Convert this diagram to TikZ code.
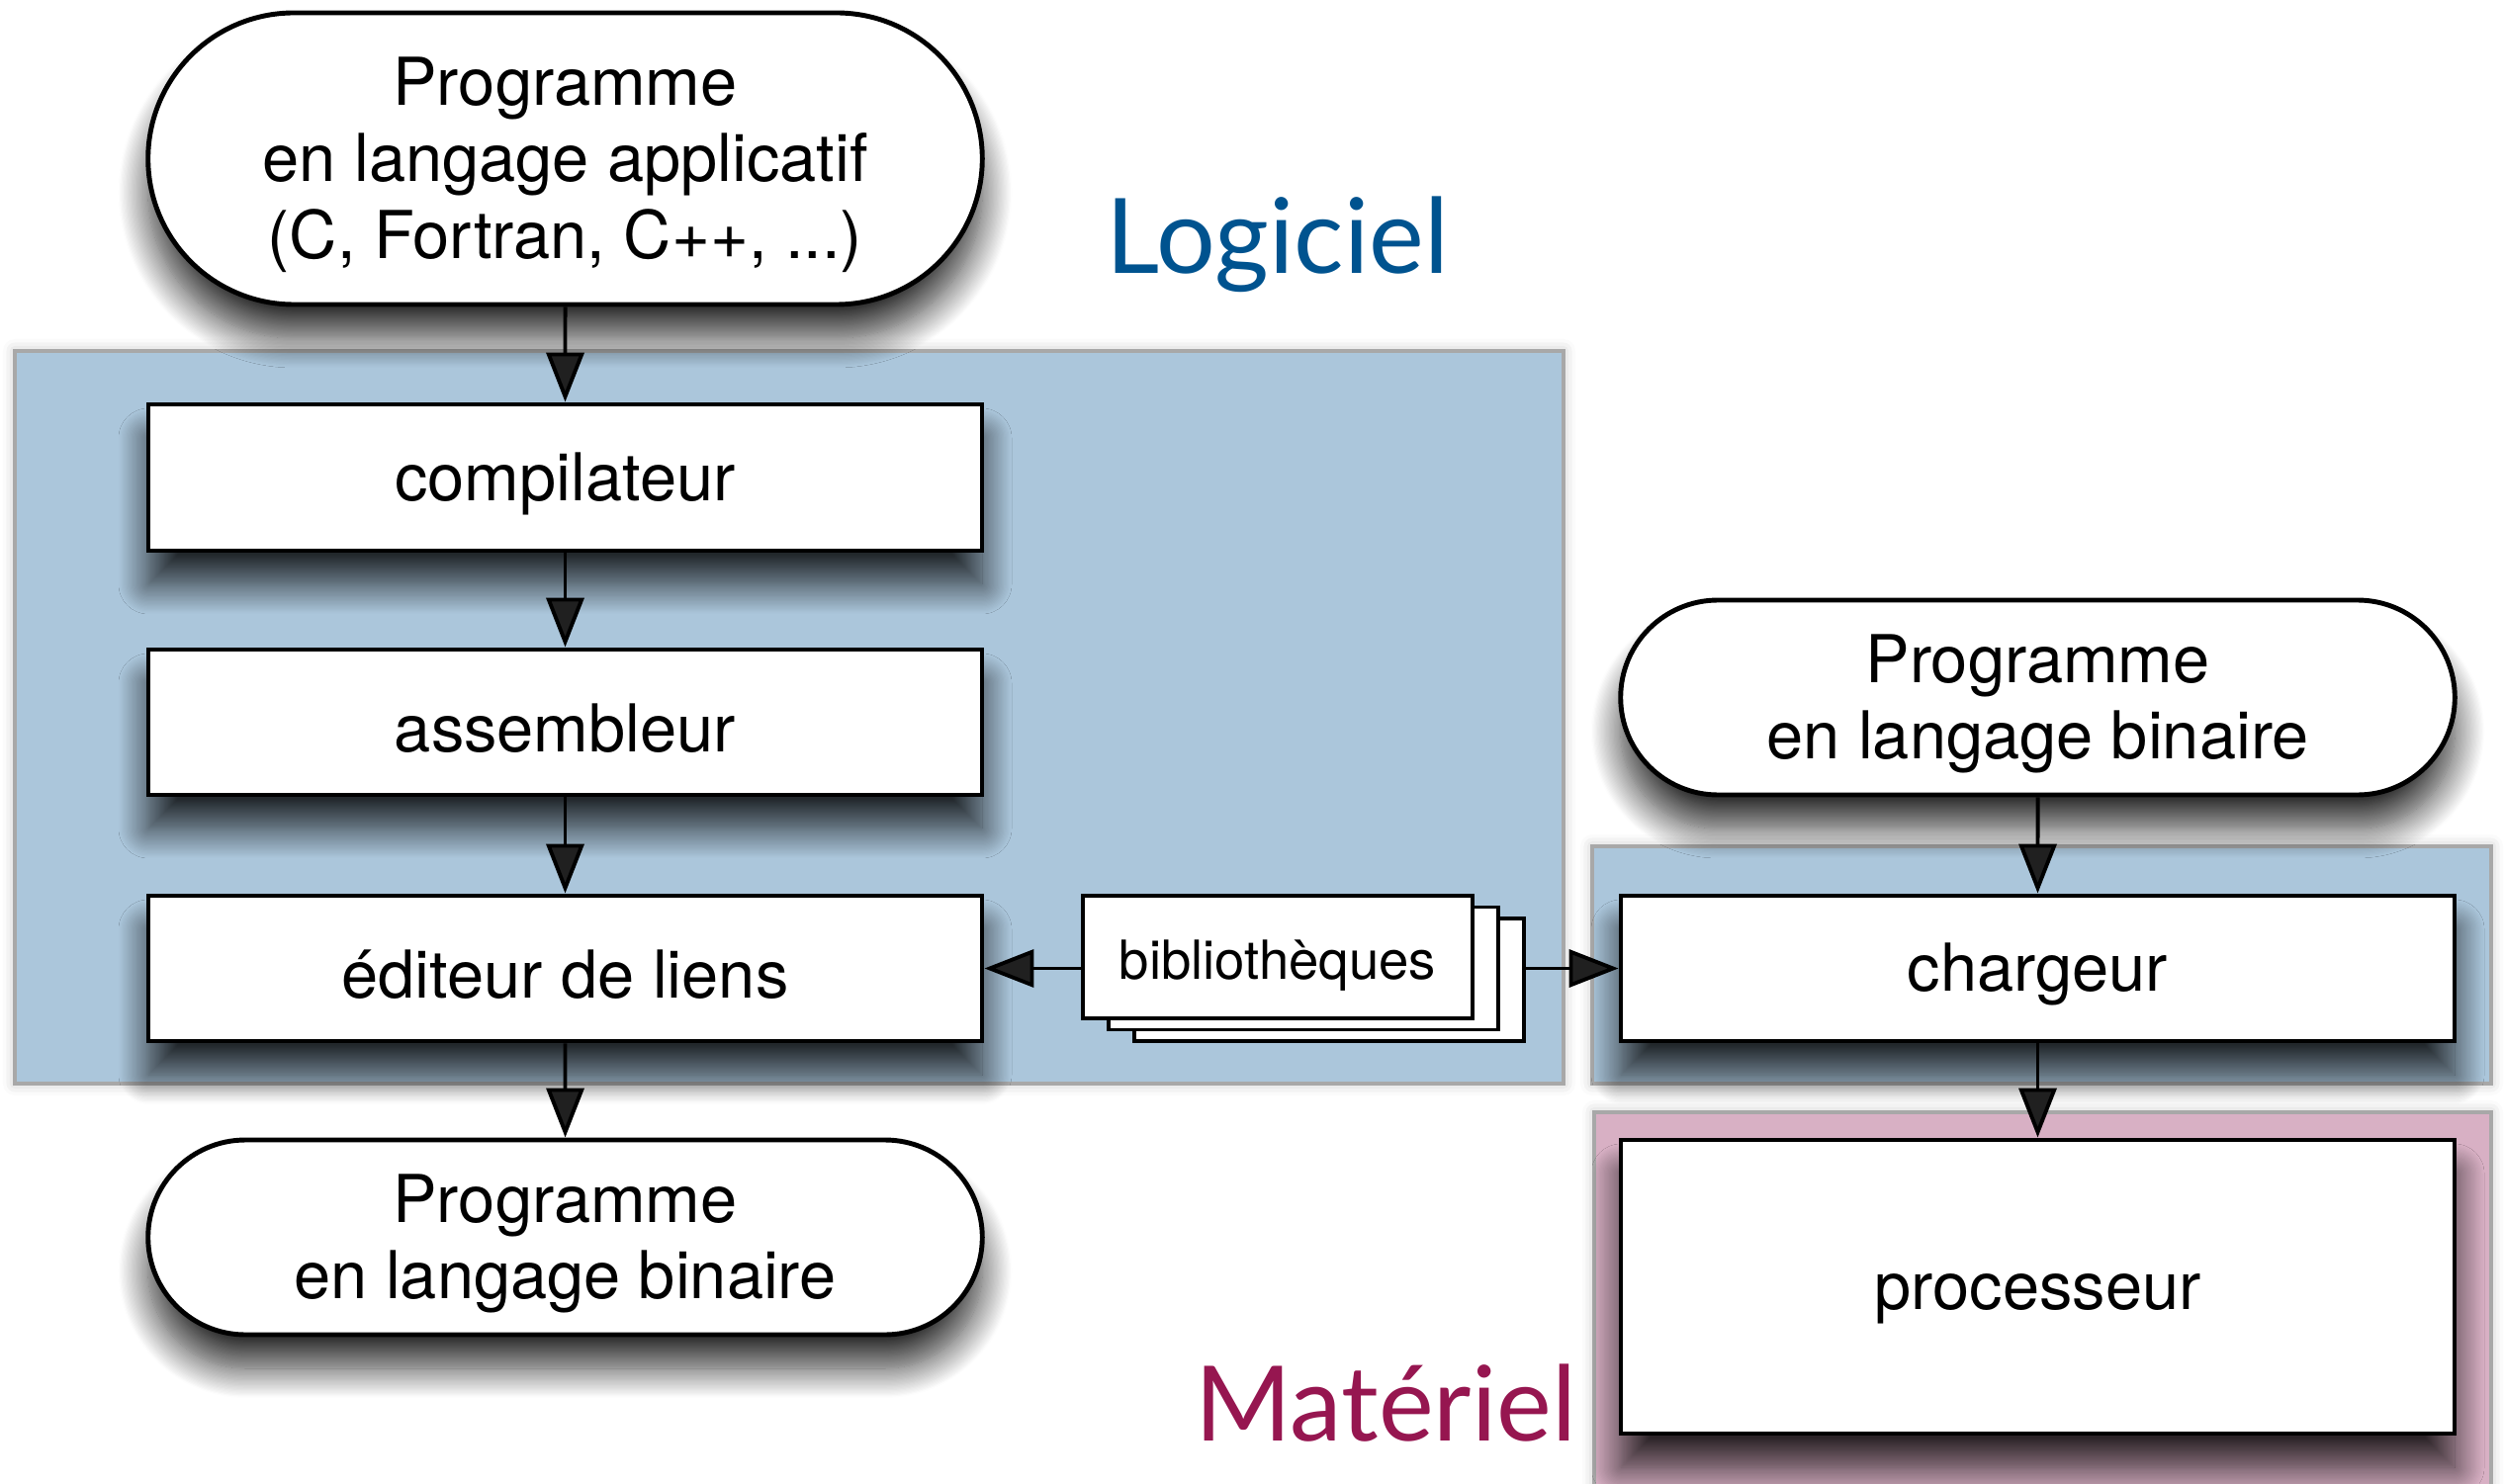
\documentclass[tikz,border=0pt]{standalone}
\usepackage{fontspec}
\setmainfont{TeX Gyre Heros}
\newfontfamily\titlefont{Lato}
\usepackage{xcolor}
\usetikzlibrary{shapes.misc,arrows.meta,shadows,shadows.blur}
\definecolor{logblue}{RGB}{0,83,143}
\definecolor{matred}{RGB}{150,22,80}
\definecolor{panelblue}{RGB}{171,198,219}
\definecolor{panelpink}{RGB}{216,176,196}
\definecolor{panelgray}{RGB}{168,168,168}
\newcommand{\topstrut}{\rule{0pt}{0.61cm}}

\begin{document}
\begin{tikzpicture}[
	boxstyle/.style={draw, line width=1.4pt, fill=white, minimum width=8.43cm, align=center,
		font=\fontsize{19}{22}\selectfont,
		blur shadow={shadow xshift=0cm, shadow yshift=-0.34cm, shadow blur radius=0.3cm, shadow opacity=80, shadow blur steps=24}},
	termstyle/.style={boxstyle, rounded rectangle, minimum width=8.67cm},
	panelstyle/.style={draw=panelgray, line width=1.3pt,
		blur shadow={shadow xshift=0cm, shadow yshift=0cm, shadow blur radius=0.12cm, shadow opacity=25}},
	titlestyle/.style={font=\titlefont\fontsize{30}{36}\selectfont},
	arr/.style={-{Triangle[length=0.5cm,width=0.38cm]}, line width=1.1pt},
]
	\useasboundingbox (0,0) rectangle (25.32,15);
	\filldraw[panelstyle, fill=panelblue] (0.15,4.04) rectangle (15.81,11.45);
	\filldraw[panelstyle, fill=panelblue] (16.10,4.04) rectangle (25.19,6.44);
	\filldraw[panelstyle, fill=panelpink] (16.12,-0.3) rectangle (25.19,3.75);

	\node[titlestyle, text=logblue] (logiciel) at (12.92,12.53) {Logiciel};
	\node[titlestyle, text=matred] (materiel) at (14.01,0.81) {Matériel};

	\node[termstyle, minimum height=2.95cm] (source) at (5.715,13.395) {\topstrut Programme\\en langage applicatif\\(C, Fortran, C++, ...)};
	\node[boxstyle, minimum height=1.48cm] (compil) at (5.715,10.17) {\topstrut compilateur};
	\node[boxstyle, minimum height=1.47cm] (assemb) at (5.715,7.695) {\topstrut assembleur};
	\node[boxstyle, minimum height=1.47cm] (editeur) at (5.715,5.205) {\topstrut éditeur de liens};
	\node[termstyle, minimum height=1.97cm] (binleft) at (5.715,2.485) {\topstrut Programme\\en langage binaire};
	\node[termstyle, minimum height=1.97cm] (binright) at (20.605,7.945) {\topstrut Programme\\en langage binaire};
	\node[boxstyle, minimum height=1.47cm] (chargeur) at (20.605,5.205) {\topstrut chargeur};
	\node[boxstyle, minimum height=2.97cm] (proc) at (20.605,1.985) {\topstrut processeur};
	\node[draw, line width=1.1pt, fill=white, minimum width=3.94cm, minimum height=1.24cm,
		font=\fontsize{15.5}{18}\selectfont, text height=0.55cm, text depth=0.1cm,
		double copy shadow={shadow xshift=0.26cm, shadow yshift=-0.115cm}] (biblio) at (12.92,5.32) {bibliothèques};
	\coordinate (bibend) at ([xshift=0.52cm]biblio.east);

	\draw[arr] (source) -- (compil);
	\draw[arr] (compil) -- (assemb);
	\draw[arr] (assemb) -- (editeur);
	\draw[arr] (editeur) -- (binleft);
	\draw[arr] (binright) -- (chargeur);
	\draw[arr] (chargeur) -- (proc);
	\draw[arr] (biblio.west |- editeur.east) -- (editeur.east);
	\draw[arr] (bibend |- chargeur.west) -- (chargeur.west);
\end{tikzpicture}
\end{document}
